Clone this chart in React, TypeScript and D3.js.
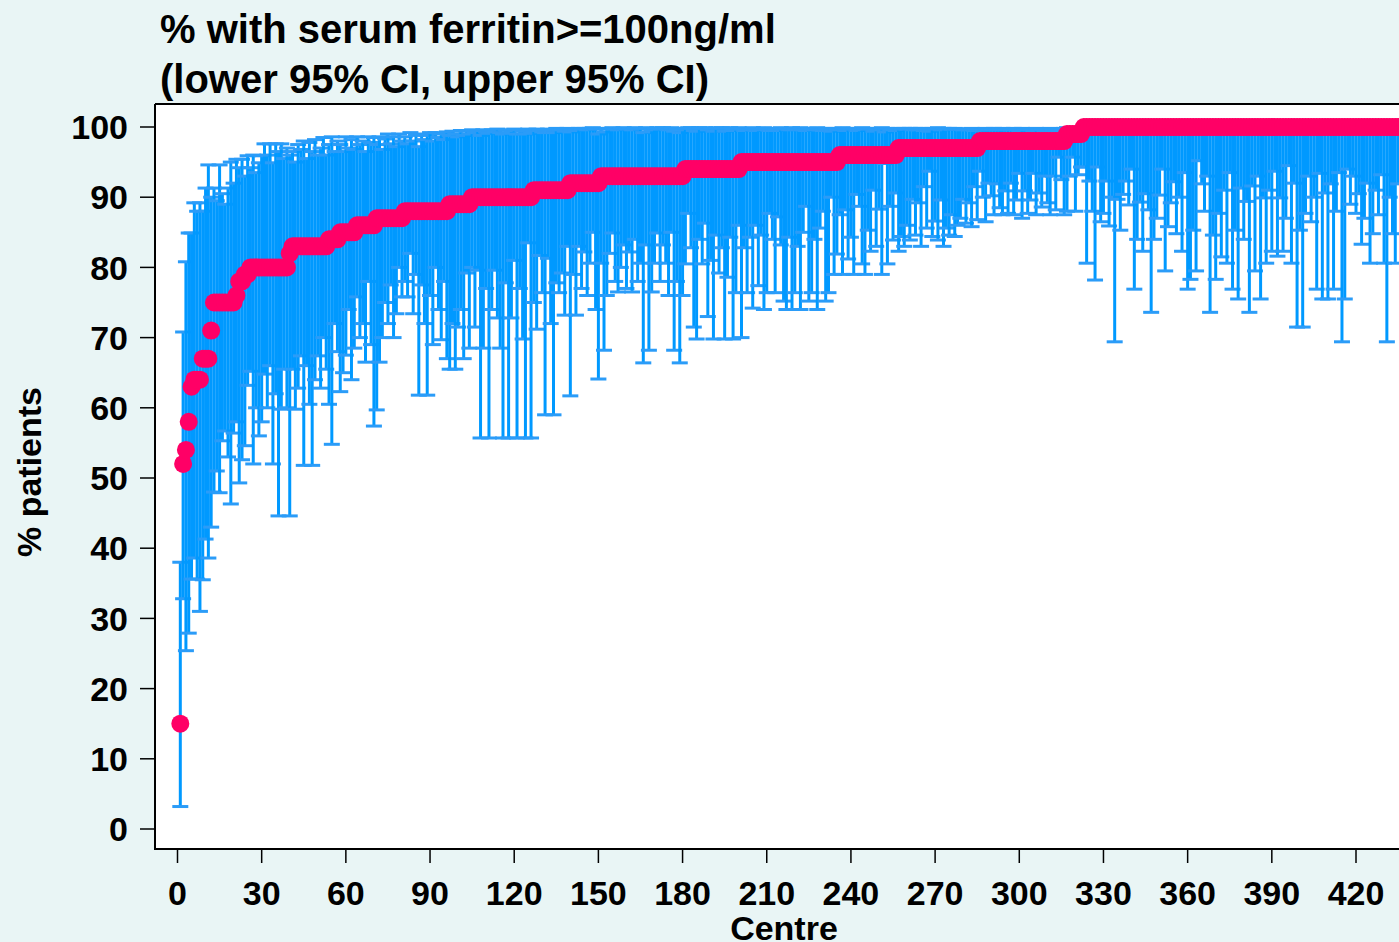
import React from "react";
import * as d3 from "d3";

// Centre estimates (% with serum ferritin >= 100ng/ml), centres ranked 1..435
const centreEstimate: number[] = [
  15, 52, 54, 58, 63, 64, 64, 64, 67, 67,
  67, 71, 75, 75, 75, 75, 75, 75, 75, 75,
  76, 78, 78, 79, 79, 80, 80, 80, 80, 80,
  80, 80, 80, 80, 80, 80, 80, 80, 80, 82,
  83, 83, 83, 83, 83, 83, 83, 83, 83, 83,
  83, 83, 83, 84, 84, 84, 84, 85, 85, 85,
  85, 85, 85, 86, 86, 86, 86, 86, 86, 86,
  87, 87, 87, 87, 87, 87, 87, 87, 87, 87,
  88, 88, 88, 88, 88, 88, 88, 88, 88, 88,
  88, 88, 88, 88, 88, 88, 89, 89, 89, 89,
  89, 89, 89, 89, 90, 90, 90, 90, 90, 90,
  90, 90, 90, 90, 90, 90, 90, 90, 90, 90,
  90, 90, 90, 90, 90, 90, 91, 91, 91, 91,
  91, 91, 91, 91, 91, 91, 91, 91, 91, 92,
  92, 92, 92, 92, 92, 92, 92, 92, 92, 92,
  93, 93, 93, 93, 93, 93, 93, 93, 93, 93,
  93, 93, 93, 93, 93, 93, 93, 93, 93, 93,
  93, 93, 93, 93, 93, 93, 93, 93, 93, 93,
  94, 94, 94, 94, 94, 94, 94, 94, 94, 94,
  94, 94, 94, 94, 94, 94, 94, 94, 94, 94,
  95, 95, 95, 95, 95, 95, 95, 95, 95, 95,
  95, 95, 95, 95, 95, 95, 95, 95, 95, 95,
  95, 95, 95, 95, 95, 95, 95, 95, 95, 95,
  95, 95, 95, 95, 95, 96, 96, 96, 96, 96,
  96, 96, 96, 96, 96, 96, 96, 96, 96, 96,
  96, 96, 96, 96, 96, 96, 97, 97, 97, 97,
  97, 97, 97, 97, 97, 97, 97, 97, 97, 97,
  97, 97, 97, 97, 97, 97, 97, 97, 97, 97,
  97, 97, 97, 97, 97, 98, 98, 98, 98, 98,
  98, 98, 98, 98, 98, 98, 98, 98, 98, 98,
  98, 98, 98, 98, 98, 98, 98, 98, 98, 98,
  98, 98, 98, 98, 98, 98, 99, 99, 99, 99,
  99, 99, 100, 100, 100, 100, 100, 100, 100, 100,
  100, 100, 100, 100, 100, 100, 100, 100, 100, 100,
  100, 100, 100, 100, 100, 100, 100, 100, 100, 100,
  100, 100, 100, 100, 100, 100, 100, 100, 100, 100,
  100, 100, 100, 100, 100, 100, 100, 100, 100, 100,
  100, 100, 100, 100, 100, 100, 100, 100, 100, 100,
  100, 100, 100, 100, 100, 100, 100, 100, 100, 100,
  100, 100, 100, 100, 100, 100, 100, 100, 100, 100,
  100, 100, 100, 100, 100, 100, 100, 100, 100, 100,
  100, 100, 100, 100, 100, 100, 100, 100, 100, 100,
  100, 100, 100, 100, 100, 100, 100, 100, 100, 100,
  100, 100, 100, 100, 100,
];

// Lower 95% confidence limits
const lowerCI: number[] = [
  3.2, 32.8, 25.4, 27.9, 35.6, 38.6, 35.6, 31, 35.5, 41.3,
  38.6, 43, 48, 51, 47.9, 55.3, 56.7, 53, 46.3, 56.4,
  58, 49.3, 52.6, 54.6, 63.2, 65.2, 52, 60, 56, 58,
  64.8, 60, 66, 52, 62, 44.6, 59.8, 65.5, 60, 44.6,
  65.5, 59.8, 62.8, 67.4, 51.8, 66, 60.5, 51.8, 64, 67.4,
  62.8, 70, 65.5, 60.5, 54.8, 72, 68, 62.3, 65, 67.5,
  74, 64, 68.5, 75.8, 70, 72, 66.5, 78, 69, 57.4,
  59.7, 66.5, 70, 75, 72, 77.5, 70, 73.4, 80, 75.8,
  78, 75.8, 82, 73.4, 79, 61.8, 77.5, 72, 61.8, 76,
  69, 80, 74, 69.7, 78, 67, 65.5, 72, 65.5, 71.5,
  74, 67, 79.2, 68.5, 80, 71.5, 79.6, 55.7, 68.5, 77,
  55.7, 74, 79.6, 72.8, 68.5, 55.7, 77.8, 55.7, 72.8, 81,
  55.7, 77, 69.8, 55.7, 83.5, 55.7, 75, 71.2, 81.7, 76.4,
  59, 81.3, 72, 59, 77.8, 76.4, 79.2, 73.2, 83, 61.7,
  79, 73.2, 83, 77, 82.2, 76, 80.6, 85, 74, 64.1,
  80.6, 68.2, 76, 82, 84.9, 78, 76.5, 80, 83.2, 77,
  82.2, 76.5, 84, 78, 80.6, 66.4, 83.2, 68.2, 76.5, 80.6,
  84.9, 78, 83.2, 80.6, 76, 85, 68.2, 78, 66.4, 76,
  80.5, 87.7, 82.8, 71.5, 69.8, 84, 80.5, 86.3, 73, 81,
  69.8, 84.6, 79.2, 82.8, 69.8, 78.6, 84.3, 69.8, 76.4, 86,
  70, 82.8, 76.4, 84.3, 74.2, 86, 77.4, 84.6, 74, 76.4,
  87.7, 84, 76.4, 87.2, 83.2, 75.2, 74, 84.3, 74, 76.4,
  83, 74, 85, 88.7, 75.2, 76.4, 84, 74, 85.6, 88,
  75.2, 76.4, 90, 79, 81.9, 87.5, 79, 88.2, 81.2, 84.3,
  79, 90.4, 88.7, 80.5, 79, 85.3, 82.3, 91, 83, 88.3,
  79, 94.8, 80.5, 88.7, 83.9, 90.6, 82.3, 84.4, 83, 86,
  83.9, 89.7, 84.6, 89.2, 83, 91.5, 85.6, 93.7, 84.4, 86.6,
  83.9, 89.6, 83, 85.6, 84.6, 87.5, 84.4, 86, 87, 89.7,
  86.3, 89.2, 85.8, 91.5, 86.8, 93.7, 90, 86.5, 92, 90.2,
  87.5, 91.9, 88.5, 87.5, 90.9, 87.7, 92, 87.5, 89.6, 93.4,
  87, 90.9, 87.7, 89.6, 93.4, 87.5, 90.6, 88.6, 93, 89.2,
  87.5, 93, 88.2, 95.7, 92.5, 87.5, 88, 93, 95.7, 88,
  93.2, 94.3, 94.3, 80.6, 92.3, 88, 78.2, 94.3, 86.5, 87.7,
  92.3, 85.9, 90, 69.4, 89.7, 85.3, 90.4, 92.3, 88.9, 94,
  76.9, 84, 89.3, 82.3, 90.5, 88.2, 73.6, 84, 87, 90.3,
  94, 79.5, 85.8, 89.2, 92.2, 84.8, 90, 82.3, 93.5, 76.9,
  78.3, 85.3, 79.5, 95.2, 91.9, 88, 93, 73.6, 84.6, 78.3,
  87.7, 81.5, 91, 80.6, 93.5, 76.9, 85.3, 75.5, 91.3, 84,
  89.4, 73.6, 91.6, 79.5, 93, 75.5, 89.9, 80.6, 91, 82.3,
  93.7, 81.6, 89.9, 82.3, 87, 94.5, 80.6, 92, 71.5, 85.3,
  71.5, 87.7, 93, 86.5, 90, 76.9, 93.4, 75.5, 90.6, 75.5,
  91.9, 76.9, 88, 93.5, 69.4, 75.5, 94, 89, 93, 87.7,
  90.5, 83.3, 87, 92, 80.6, 84.8, 91, 87.5, 93.2, 80.6,
  69.4, 90, 84.8, 80.6, 91.9,
];

// Upper 95% confidence limits
const upperCI: number[] = [
  38, 70.8, 80.8, 84.9, 84.9, 89.2, 88, 89.2, 88, 91.3,
  94.6, 90, 91.3, 89.5, 94.6, 90.5, 89, 91.3, 95, 92,
  95.4, 94.2, 95.4, 93, 95.9, 94.2, 96, 93.5, 94.9, 95.9,
  97.6, 96, 97.6, 94.9, 97.6, 96.5, 97.6, 95.5, 97, 96,
  96.5, 95, 97.5, 96.8, 98, 95.5, 97.8, 96.5, 98.2, 96,
  97, 98.5, 96, 97.5, 98.6, 96.5, 98, 97.5, 96.5, 98.6,
  97, 98.2, 96.8, 98.6, 97.5, 98, 96.5, 98.6, 97.8, 98.5,
  97.5, 98.6, 96.8, 98.3, 99, 97.6, 98.6, 97.2, 99, 98,
  98.6, 97.6, 99.2, 98, 98.8, 97.2, 99, 98.2, 98.8, 99.2,
  98, 99.2, 98.5, 99, 98.2, 99.3, 98.8, 99.4, 99, 98.6,
  99.5, 98.8, 99.4, 99, 99.6, 99.2, 99.5, 98.8, 99.6, 99.3,
  99.1, 99.6, 99.3, 99.7, 99.2, 99, 99.6, 99.1, 99.5, 99.7,
  99, 99.6, 99.4, 99, 99.7, 99.1, 99.5, 99.7, 99.6, 99.3,
  99.2, 99.7, 99.5, 99.2, 99.8, 99.6, 99.7, 99.4, 99.8, 99.3,
  99.6, 99.5, 99.8, 99.7, 99.8, 99.6, 99.8, 99.9, 99.7, 99,
  99.8, 99.3, 99.7, 99.8, 99.9, 99.7, 99.6, 99.8, 99.9, 99.7,
  99.8, 99.6, 99.9, 99.7, 99.8, 99.2, 99.9, 99.3, 99.6, 99.8,
  99.9, 99.7, 99.9, 99.8, 99.6, 99.9, 99.4, 99.7, 99.2, 99.6,
  99.8, 99.9, 99.9, 99.5, 99.4, 99.9, 99.8, 99.9, 99.6, 99.8,
  99.4, 99.9, 99.8, 99.9, 99.4, 99.8, 99.9, 99.5, 99.7, 99.9,
  99.8, 99.5, 99.7, 99.6, 99.9, 99.5, 99.8, 99.6, 99.9, 99.7,
  99.5, 99.8, 99.7, 99.5, 99.9, 99.7, 99.8, 99.6, 99.9, 99.7,
  99.6, 99.9, 99.6, 99.5, 99.8, 99.7, 99.6, 99.9, 99.6, 99.5,
  99.8, 99.7, 99.4, 99.8, 99.7, 99.6, 99.9, 99.5, 99.8, 99.7,
  99.8, 99.5, 99.6, 99.9, 99.8, 99.7, 99.8, 99.4, 99.7, 99.6,
  99.9, 99.3, 99.8, 99.6, 99.7, 99.5, 99.8, 99.7, 99.8, 99.7,
  99.8, 99.6, 99.8, 99.6, 99.8, 99.5, 99.7, 99.4, 99.8, 99.7,
  99.9, 99.6, 99.8, 99.7, 99.8, 99.7, 99.8, 99.7, 99.7, 99.6,
  99.7, 99.6, 99.8, 99.5, 99.7, 99.5, 99.6, 99.8, 99.6, 99.6,
  99.8, 99.6, 99.7, 99.8, 99.6, 99.7, 99.6, 99.8, 99.7, 99.5,
  99.8, 99.6, 99.7, 99.7, 99.5, 99.8, 99.6, 99.7, 99.5, 99.7,
  99.8, 99.5, 99.7, 99.4, 99.6, 99.8, 99.9, 99.8, 99.7, 99.9,
  99.8, 99.8, 100, 100, 100, 100, 100, 100, 100, 100,
  100, 100, 100, 100, 100, 100, 100, 100, 100, 100,
  100, 100, 100, 100, 100, 100, 100, 100, 100, 100,
  100, 100, 100, 100, 100, 100, 100, 100, 100, 100,
  100, 100, 100, 100, 100, 100, 100, 100, 100, 100,
  100, 100, 100, 100, 100, 100, 100, 100, 100, 100,
  100, 100, 100, 100, 100, 100, 100, 100, 100, 100,
  100, 100, 100, 100, 100, 100, 100, 100, 100, 100,
  100, 100, 100, 100, 100, 100, 100, 100, 100, 100,
  100, 100, 100, 100, 100, 100, 100, 100, 100, 100,
  100, 100, 100, 100, 100, 100, 100, 100, 100, 100,
  100, 100, 100, 100, 100,
];

const yTickValues: number[] = [0, 10, 20, 30, 40, 50, 60, 70, 80, 90, 100];
const xTickValues: number[] = [0, 30, 60, 90, 120, 150, 180, 210, 240, 270, 300, 330, 360, 390, 420];
const titleLines: string[] = ["% with serum ferritin>=100ng/ml", "(lower 95% CI, upper 95% CI)"];
const xAxisTitle = "Centre";
const yAxisTitle = "% patients";

const FONT = "'Liberation Sans', Arial, Helvetica, sans-serif";

export default function App() {
  const W = 1399;
  const H = 942;
  const plotLeft = 155;
  const plotTop = 104;
  const plotRight = 1430;
  const plotBottom = 849;

  const x = d3.scaleLinear().domain([0, 420]).range([177.5, 1356]);
  const y = d3.scaleLinear().domain([0, 100]).range([829, 127]);

  const barColor = "#0099ff";
  const capColor = "#2b9cf8";
  const dotColor = "#ff0066";
  const capHalf = 8;

  const centres = centreEstimate.map((v, i) => ({
    centre: i + 1,
    est: v,
    lo: lowerCI[i],
    hi: upperCI[i],
  }));

  return (
    <svg
      width={W}
      height={H}
      style={{ position: "absolute", left: 0, top: 0, display: "block" }}
      fontFamily={FONT}
    >
      <rect x={0} y={0} width={W} height={H} fill="#e9f5f5" />
      <rect
        x={plotLeft}
        y={plotTop}
        width={plotRight - plotLeft}
        height={plotBottom - plotTop}
        fill="#ffffff"
      />

      {/* error bars */}
      <g>
        {centres.map((d) => {
          const cx = x(d.centre);
          return (
            <g key={"b" + d.centre}>
              <line x1={cx} x2={cx} y1={y(d.lo)} y2={y(d.hi)} stroke={barColor} strokeWidth={3} />
              <line
                x1={cx - capHalf}
                x2={cx + capHalf}
                y1={y(d.lo)}
                y2={y(d.lo)}
                stroke={capColor}
                strokeWidth={3}
              />
              <line
                x1={cx - capHalf}
                x2={cx + capHalf}
                y1={y(d.hi)}
                y2={y(d.hi)}
                stroke={capColor}
                strokeWidth={3}
              />
            </g>
          );
        })}
      </g>

      {/* point estimates */}
      <g>
        {centres.map((d) => (
          <circle key={"p" + d.centre} cx={x(d.centre)} cy={y(d.est)} r={9} fill={dotColor} />
        ))}
      </g>

      {/* plot frame */}
      <line x1={plotLeft} x2={plotRight} y1={plotTop} y2={plotTop} stroke="#000" strokeWidth={2} />
      <line x1={plotLeft} x2={plotLeft} y1={plotTop} y2={plotBottom} stroke="#000" strokeWidth={2} />
      <line x1={plotLeft - 1} x2={plotRight} y1={plotBottom} y2={plotBottom} stroke="#000" strokeWidth={2} />

      {/* y axis ticks */}
      <g>
        {yTickValues.map((t) => (
          <g key={"yt" + t}>
            <line x1={140} x2={plotLeft} y1={y(t)} y2={y(t)} stroke="#000" strokeWidth={1.5} />
            <text
              x={128}
              y={y(t)}
              dy="0.36em"
              textAnchor="end"
              fontSize={34}
              fontWeight="bold"
              fill="#000"
            >
              {t}
            </text>
          </g>
        ))}
      </g>

      {/* x axis ticks */}
      <g>
        {xTickValues.map((t) => (
          <g key={"xt" + t}>
            <line x1={x(t)} x2={x(t)} y1={plotBottom} y2={863} stroke="#000" strokeWidth={1.5} />
            <text x={x(t)} y={905} textAnchor="middle" fontSize={34} fontWeight="bold" fill="#000">
              {t}
            </text>
          </g>
        ))}
      </g>

      <text x={784} y={940} textAnchor="middle" fontSize={34} fontWeight="bold" fill="#000">
        {xAxisTitle}
      </text>
      <text
        transform={`translate(41,472) rotate(-90)`}
        textAnchor="middle"
        fontSize={34}
        fontWeight="bold"
        fill="#000"
      >
        {yAxisTitle}
      </text>

      {titleLines.map((line, i) => (
        <text key={"t" + i} x={160} y={43 + i * 50} fontSize={40} fontWeight="bold" fill="#000">
          {line}
        </text>
      ))}
    </svg>
  );
}
